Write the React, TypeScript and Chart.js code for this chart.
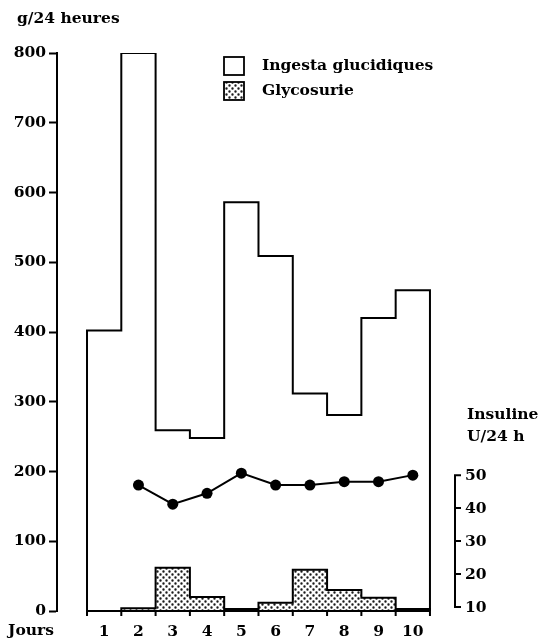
import React, { useEffect, useRef } from 'react';
import { Chart, registerables } from 'chart.js';
Chart.register(...registerables);

// ---- data ----
const days = [1, 2, 3, 4, 5, 6, 7, 8, 9, 10];
const ingesta = [402, 800, 259, 248, 586, 509, 312, 281, 420, 460];
const glycosurie = [0, 4, 62, 20, 3, 12, 59, 30, 19, 3];
const insulineDays = [2, 3, 4, 5, 6, 7, 8, 9, 10];
const insuline = [47, 41.2, 44.5, 50.6, 47, 47, 48, 48, 50];
const leftTicks = [0, 100, 200, 300, 400, 500, 600, 700, 800];
const rightTicks = [10, 20, 30, 40, 50];
const dayLabels = ['1', '2', '3', '4', '5', '6', '7', '8', '9', '10'];

const FONT = "'DejaVu Serif', 'Liberation Serif', serif";
const FSIZE = 15.5;
const W = 540;
const H = 643;

function stepPoints(vals: number[]) {
  const pts: { x: number; y: number }[] = [{ x: days[0] - 0.5, y: 0 }];
  vals.forEach((v, i) => pts.push({ x: days[i] - 0.5, y: v }));
  pts.push({ x: days[days.length - 1] + 0.5, y: 0 });
  return pts;
}

function makePattern(): CanvasPattern | string {
  const c = document.createElement('canvas');
  c.width = 6;
  c.height = 6;
  const g = c.getContext('2d');
  if (!g) return '#bbb';
  g.fillStyle = '#fff';
  g.fillRect(0, 0, 6, 6);
  g.fillStyle = '#1a1a1a';
  g.beginPath();
  g.arc(1.5, 1.5, 1.2, 0, Math.PI * 2);
  g.arc(4.5, 4.5, 1.2, 0, Math.PI * 2);
  g.fill();
  const p = g.createPattern(c, 'repeat');
  return p || '#bbb';
}

const decorPlugin = {
  id: 'decor',
  afterDraw(chart: any) {
    const ctx: CanvasRenderingContext2D = chart.ctx;
    const xs = chart.scales.x;
    const ys = chart.scales.y;
    const y2 = chart.scales.y2;
    const area = chart.chartArea;
    ctx.save();
    ctx.fillStyle = '#000';
    ctx.strokeStyle = '#000';
    ctx.font = `bold ${FSIZE}px ${FONT}`;
    ctx.textBaseline = 'middle';

    // title
    ctx.textAlign = 'left';
    ctx.fillText('g/24 heures', 17, 19);

    // x label
    ctx.textAlign = 'center';
    ctx.fillText('Jours', 31, 631);

    // x baseline + ticks at bin edges
    const y0 = ys.getPixelForValue(0);
    const xl = xs.getPixelForValue(days[0] - 0.5);
    const xr = xs.getPixelForValue(days[days.length - 1] + 0.5);
    ctx.lineWidth = 2;
    ctx.beginPath();
    ctx.moveTo(xl, y0);
    ctx.lineTo(xr, y0);
    days.forEach((d) => {
      const px = xs.getPixelForValue(d - 0.5);
      ctx.moveTo(px, y0);
      ctx.lineTo(px, y0 + 5);
    });
    ctx.moveTo(xr, y0);
    ctx.lineTo(xr, y0 + 5);
    ctx.stroke();

    // right axis (insulin)
    const ax = area.right;
    const yTop = y2.getPixelForValue(rightTicks[rightTicks.length - 1]);
    const yBot = y2.getPixelForValue(rightTicks[0]);
    ctx.beginPath();
    ctx.moveTo(ax, yTop);
    ctx.lineTo(ax, yBot);
    rightTicks.forEach((t) => {
      const py = y2.getPixelForValue(t);
      ctx.moveTo(ax - 1, py);
      ctx.lineTo(ax + 6, py);
    });
    ctx.stroke();
    ctx.textAlign = 'left';
    rightTicks.forEach((t) => {
      ctx.fillText(String(t), ax + 10, y2.getPixelForValue(t) + 1);
    });
    ctx.fillText('Insuline', ax + 12, 415);
    ctx.fillText('U/24 h', ax + 12, 437);

    // legend
    const items = [
      { label: chart.data.datasets[2].label, fill: '#fff' },
      { label: chart.data.datasets[1].label, fill: chart.data.datasets[1].backgroundColor },
    ];
    items.forEach((it, i) => {
      const by = 57 + i * 25;
      ctx.fillStyle = it.fill;
      ctx.fillRect(224, by, 20, 18);
      ctx.lineWidth = 1.8;
      ctx.strokeRect(224, by, 20, 18);
      ctx.fillStyle = '#000';
      ctx.fillText(it.label, 262, by + 9);
    });
    ctx.restore();
  },
};

export default function App() {
  const ref = useRef<HTMLCanvasElement>(null);
  useEffect(() => {
    if (!ref.current) return;
    const pattern = makePattern();
    const chart = new Chart(ref.current, {
      type: 'line',
      data: {
        datasets: [
          {
            label: 'Insuline',
            data: insulineDays.map((d, i) => ({ x: d, y: insuline[i] })),
            yAxisID: 'y2',
            borderColor: '#000',
            backgroundColor: '#000',
            borderWidth: 2,
            pointRadius: 5.5,
            pointBackgroundColor: '#000',
            pointBorderWidth: 0,
            fill: false,
          },
          {
            label: 'Glycosurie',
            data: stepPoints(glycosurie),
            yAxisID: 'y',
            stepped: true,
            borderColor: '#000',
            borderWidth: 2,
            backgroundColor: pattern as any,
            pointRadius: 0,
            fill: 'origin',
          },
          {
            label: 'Ingesta glucidiques',
            data: stepPoints(ingesta),
            yAxisID: 'y',
            stepped: true,
            borderColor: '#000',
            borderWidth: 2,
            backgroundColor: '#fff',
            pointRadius: 0,
            fill: false,
          },
        ],
      },
      options: {
        animation: false,
        responsive: false,
        layout: { padding: { top: 53, right: 85, left: 0, bottom: 0 } },
        plugins: { legend: { display: false }, tooltip: { enabled: false } },
        scales: {
          x: {
            type: 'linear',
            min: -0.375,
            max: 11.23,
            grid: { display: false },
            border: { display: false },
            afterFit: (s: any) => {
              s.height = 32;
            },
            afterBuildTicks: (s: any) => {
              s.ticks = days.map((d) => ({ value: d }));
            },
            ticks: {
              autoSkip: false,
              maxRotation: 0,
              padding: 4,
              color: '#000',
              font: { family: FONT, size: FSIZE, weight: 'bold' },
              callback: (v: any) => {
                const i = days.indexOf(Number(v));
                return i >= 0 ? dayLabels[i] : '';
              },
            },
          },
          y: {
            type: 'linear',
            position: 'left',
            min: 0,
            max: 800,
            afterFit: (s: any) => {
              s.width = 57;
            },
            afterBuildTicks: (s: any) => {
              s.ticks = leftTicks.map((t) => ({ value: t }));
            },
            grid: {
              drawOnChartArea: false,
              drawTicks: true,
              tickLength: 8,
              tickColor: '#000',
              tickWidth: 2,
            },
            border: { display: true, color: '#000', width: 2 },
            ticks: {
              padding: 3,
              color: '#000',
              font: { family: FONT, size: FSIZE, weight: 'bold' },
            },
          },
          y2: {
            type: 'linear',
            display: false,
            min: 8.8,
            max: 178,
          },
        },
      },
      plugins: [decorPlugin],
    } as any);
    return () => chart.destroy();
  }, []);
  return (
    <div style={{ position: 'fixed', left: 0, top: 0, width: W, height: H, background: '#fff' }}>
      <canvas ref={ref} width={W} height={H} />
    </div>
  );
}
